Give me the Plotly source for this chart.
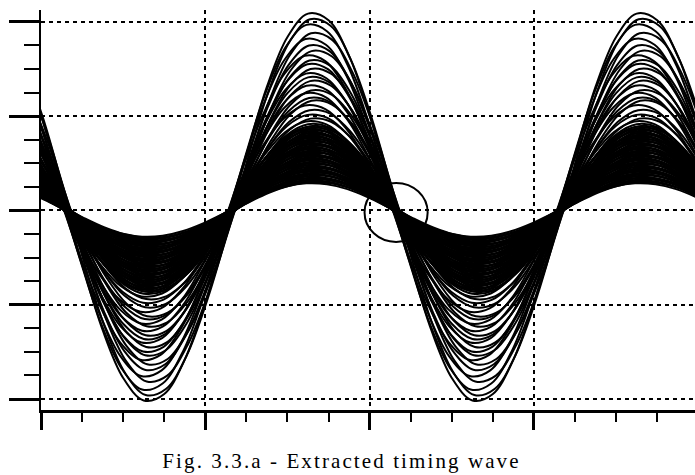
import plotly.graph_objects as go

base_x = [-0.125, 0.0, 0.125, 0.25, 0.375, 0.5, 0.625, 0.75, 0.875,
          1.0, 1.125, 1.25, 1.375, 1.5, 1.625, 1.75, 1.875,
          2.0, 2.125, 2.25, 2.375, 2.5, 2.625, 2.75, 2.875,
          3.0, 3.125, 3.25, 3.375, 3.5, 3.625, 3.75, 3.875, 4.0, 4.125]
base_wave = [0.7804, 0.4818, 0.1097, -0.2692, -0.6033, -0.8456, -0.9592, -0.9267, -0.7531,
             -0.4649, -0.1059, 0.2790, 0.6252, 0.8763, 0.9940, 0.9603, 0.7804,
             0.4818, 0.1097, -0.2692, -0.6033, -0.8456, -0.9592, -0.9267, -0.7531,
             -0.4649, -0.1059, 0.2790, 0.6252, 0.8763, 0.9940, 0.9603, 0.7804, 0.4818, 0.1097]

# Peak amplitude of each extracted trace: sparse large ones, then the dense bundle
amplitudes_sparse = [2.10, 2.04, 1.98, 1.89, 1.83, 1.76, 1.70, 1.65, 1.60, 1.56, 1.51, 1.46,
                     1.42, 1.38, 1.33, 1.28, 1.25, 1.20, 1.17, 1.12, 1.07, 1.02, 0.98, 0.95,
                     0.92]
amplitudes_dense = [0.90, 0.89, 0.88, 0.87, 0.86, 0.85, 0.84, 0.83, 0.82, 0.81, 0.80, 0.79,
                    0.78, 0.77, 0.76, 0.75, 0.74, 0.73, 0.72, 0.71, 0.70, 0.69, 0.68, 0.67,
                    0.66, 0.65, 0.64, 0.63, 0.62, 0.61, 0.60, 0.59, 0.58, 0.57, 0.56, 0.55,
                    0.54, 0.53, 0.52, 0.51, 0.50, 0.49, 0.48, 0.47, 0.46, 0.45, 0.44, 0.43,
                    0.42, 0.41, 0.40, 0.39, 0.38, 0.37, 0.36, 0.35, 0.34, 0.33, 0.32, 0.31,
                    0.30, 0.29]

# Timing jitter pattern (grid units), cycled over the traces
jitter = [0.000, 0.012, -0.010, 0.018, -0.016, 0.006, 0.021, -0.020, 0.009, -0.004, 0.015, -0.013]

y_ticks = [-2, -1, 0, 1, 2]
x_ticks = [0, 1, 2, 3]

circle_center = (2.161, -0.021)
circle_radius = (0.192, 0.313)

caption = "Fig. 3.3.a - Extracted timing wave"

amplitudes = amplitudes_sparse + amplitudes_dense

fig = go.Figure()
for i, a in enumerate(amplitudes):
    s = jitter[i % len(jitter)]
    fig.add_trace(go.Scatter(
        x=[bx + s for bx in base_x],
        y=[a * w for w in base_wave],
        mode="lines",
        line=dict(color="black", width=2, shape="spline"),
        hoverinfo="skip",
        showlegend=False,
    ))

fig.add_shape(
    type="circle", xref="x", yref="y",
    x0=circle_center[0] - circle_radius[0], x1=circle_center[0] + circle_radius[0],
    y0=circle_center[1] - circle_radius[1], y1=circle_center[1] + circle_radius[1],
    line=dict(color="black", width=2),
)

fig.add_annotation(
    text=caption, xref="paper", yref="paper", x=0.4595, y=-0.1275,
    xanchor="center", yanchor="middle", showarrow=False,
    font=dict(family="Liberation Serif", size=21, color="black"),
)

fig.update_layout(
    width=695, height=475,
    margin=dict(l=41, r=0, t=10, b=65),
    paper_bgcolor="white", plot_bgcolor="white",
    xaxis=dict(
        range=[0, 3.98], tickmode="array", tickvals=x_ticks, showticklabels=False,
        ticks="outside", ticklen=17, tickwidth=2.5, tickcolor="black",
        showline=True, linecolor="black", linewidth=2.5,
        showgrid=True, gridcolor="black", gridwidth=2, griddash="4px,4px",
        zeroline=False,
        minor=dict(dtick=0.25, tick0=0, ticks="outside", ticklen=9, tickwidth=2,
                   tickcolor="black", showgrid=False),
    ),
    yaxis=dict(
        range=[-2.116, 2.126], tickmode="array", tickvals=y_ticks, showticklabels=False,
        ticks="outside", ticklen=30, tickwidth=2.5, tickcolor="black",
        showline=True, linecolor="black", linewidth=2,
        showgrid=True, gridcolor="black", gridwidth=2, griddash="4px,4px",
        zeroline=False,
        minor=dict(dtick=0.25, tick0=0, ticks="outside", ticklen=15, tickwidth=2,
                   tickcolor="black", showgrid=False),
    ),
)

# widen the caption's letter spacing like the scanned figure
post = ("document.querySelectorAll('.annotation-text').forEach("
        "function(e){e.style.letterSpacing='2.1px';});")
fig.write_html("out.html", post_script=post)
